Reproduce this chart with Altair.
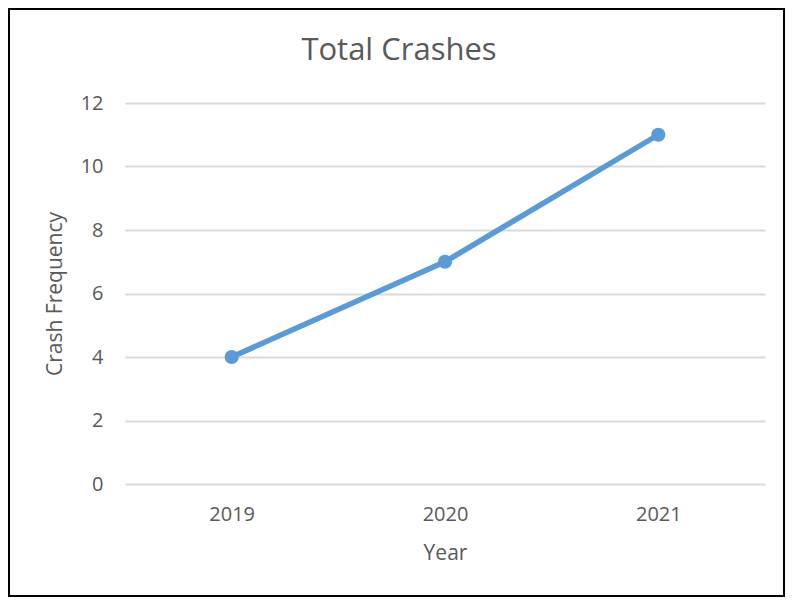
import altair as alt
import pandas as pd

years = ["2019", "2020", "2021"]
crashes = [4, 7, 11]
y_ticks = [0, 2, 4, 6, 8, 10, 12]

df = pd.DataFrame({"Year": years, "Crashes": crashes})

FONT = "Open Sans"
GREY = "#595959"
BLUE = "#5B9BD5"

base = alt.Chart(df).encode(
    x=alt.X("Year:N", sort=years,
            scale=alt.Scale(paddingInner=0, paddingOuter=0),
            axis=alt.Axis(title="Year", labelAngle=0, ticks=False, domain=False,
                          grid=False, labelPadding=20, titlePadding=18)),
    y=alt.Y("Crashes:Q", scale=alt.Scale(domain=[0, 12], nice=False),
            axis=alt.Axis(title="Crash Frequency", values=y_ticks, ticks=False,
                          domain=False, grid=True, labelPadding=22, titlePadding=15)),
)

line = base.mark_line(color=BLUE, strokeWidth=5.5)
pts = base.mark_circle(color=BLUE, opacity=1, size=200)

border = alt.Chart(alt.Data(values=[{}])).mark_rect(
    fill=None, stroke="black", strokeWidth=2, clip=False
).encode(
    x=alt.value(-116), x2=alt.value(659),
    y=alt.value(-94), y2=alt.value(493),
)

chart = alt.layer(border, line, pts).properties(
    width=640, height=381,
    title=alt.TitleParams("Total Crashes", dx=-46),
    autosize=alt.AutoSizeParams(type="none"),
    padding={"left": 117, "top": 95, "right": 20, "bottom": 113},
).configure_view(stroke=None).configure_axis(
    labelFont=FONT, titleFont=FONT, labelColor=GREY, titleColor=GREY,
    labelFontSize=20, titleFontSize=21, labelFontWeight="normal", titleFontWeight="normal",
    gridColor="#D9D9D9", gridWidth=2,
).configure_title(
    font=FONT, fontSize=31, color=GREY, fontWeight="normal", offset=-59,
)

chart.save("out.html", embed_options={"renderer": "svg", "actions": False})
